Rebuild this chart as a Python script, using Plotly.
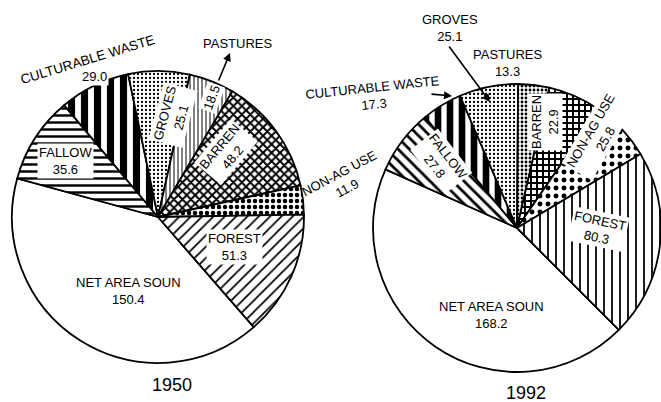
import plotly.graph_objects as go

# ---------------- data ----------------
categories = ["NET AREA SOUN", "FALLOW", "CULTURABLE WASTE", "GROVES",
              "PASTURES", "BARREN", "NON-AG USE", "FOREST"]
values_1950 = [150.4, 35.6, 29.0, 25.1, 18.5, 48.2, 11.9, 51.3]
values_1992 = [168.2, 27.8, 17.3, 25.1, 13.3, 22.9, 25.8, 80.3]
years = ["1950", "1992"]

# ---------------- styling ----------------
W, H = 661, 402
FONT = "Arial, Liberation Sans, sans-serif"

def px(x, y):
    return x / W, 1 - y / H

def dom(x0, x1, y0, y1):
    return dict(x=[x0 / W, min(x1 / W, 1.0)], y=[1 - y1 / H, 1 - y0 / H])

shapes_1950 = ["", "-", "|", ".", "|", "x", ".", "/"]
sizes_1950 = [8, 7, 13, 4, 4, 6, 6, 8]
solid_1950 = [0.0, 0.35, 0.55, 0.25, 0.25, 0.55, 0.45, 0.22]

shapes_1992 = ["", "\\", "|", ".", ".", "+", ".", "|"]
sizes_1992 = [8, 8, 12, 4, 4, 6, 8, 8]
solid_1992 = [0.0, 0.35, 0.55, 0.25, 0.4, 0.55, 0.3, 0.22]

fig = go.Figure()

def add_pie(vals, shapes, sizes, solid, domain, rotation):
    fig.add_trace(go.Pie(
        labels=categories, values=vals, sort=False, direction="clockwise",
        rotation=rotation, domain=domain, textinfo="none", hoverinfo="label+value",
        showlegend=False,
        marker=dict(colors=["white"] * len(vals),
                    line=dict(color="black", width=1.8),
                    pattern=dict(shape=shapes, size=sizes, solidity=solid,
                                 fgcolor="black", bgcolor="white",
                                 fillmode="replace")),
    ))

add_pie(values_1950, shapes_1950, sizes_1950, solid_1950, dom(12, 304, 71, 363), 139)
add_pie(values_1992, shapes_1992, sizes_1992, solid_1992, dom(373, 663, 83, 373), 135)

ann = []

def label(text, x, y, angle=0, bg=None, size=13):
    xx, yy = px(x, y)
    d = dict(text=text, x=xx, y=yy, xref="paper", yref="paper", showarrow=False,
             textangle=angle, font=dict(family=FONT, size=size, color="black"),
             xanchor="center", yanchor="middle", borderpad=1)
    if bg:
        d["bgcolor"] = bg
    ann.append(d)

def pointer(x_head, y_head, x_tail, y_tail, head=2):
    hx, hy = px(x_head, y_head)
    ann.append(dict(text="", x=hx, y=hy, xref="paper", yref="paper", showarrow=True,
                    ax=x_tail - x_head, ay=y_tail - y_head, arrowhead=head,
                    arrowsize=1, arrowwidth=1.6, arrowcolor="black"))

def lbl(i, vals):
    return f"{categories[i]}<br>{vals[i]:.1f}"

v1, v2 = values_1950, values_1992
# 1950 labels
label(lbl(0, v1), 128, 291)
label(lbl(1, v1), 65, 161, bg="white")
label(categories[2], 88, 60, angle=-17, size=13.5)
label(f"{v1[2]:.1f}", 95, 77, bg="white", size=13)
label(lbl(3, v1), 173, 115, angle=-75, bg="white")
label(f"{v1[4]:.1f}", 211, 98, angle=-70, bg="white")
label(lbl(5, v1), 226, 152, angle=-50, bg="white")
label(lbl(6, v1), 343, 181, angle=-28)
label(lbl(7, v1), 234, 247, bg="white")
label(years[0], 172, 385, size=18)
label(categories[4], 237, 43)
pointer(230, 53, 218, 82)

# 1992 labels
label(lbl(0, v2), 492, 315)
label(lbl(1, v2), 441, 161, angle=52, bg="white")
label(lbl(2, v2), 373, 96, angle=-6)
label(lbl(3, v2), 450, 28)
label(lbl(4, v2), 507, 63)
label(lbl(5, v2), 545, 122, angle=-90, bg="white")
label(lbl(6, v2), 598, 135, angle=-60, bg="white")
label(lbl(7, v2), 598, 229, angle=12, bg="white")
label(years[1], 526, 393, size=18)
pointer(490, 102, 448, 45)
pointer(452, 96, 430, 94)

fig.update_layout(width=W, height=H, margin=dict(l=0, r=0, t=0, b=0),
                  paper_bgcolor="white", plot_bgcolor="white",
                  annotations=ann, font=dict(family=FONT, color="black"))
fig.write_html("out.html", config={"displayModeBar": False},
               post_script="document.body.style.margin='0';document.body.style.overflow='hidden';")
